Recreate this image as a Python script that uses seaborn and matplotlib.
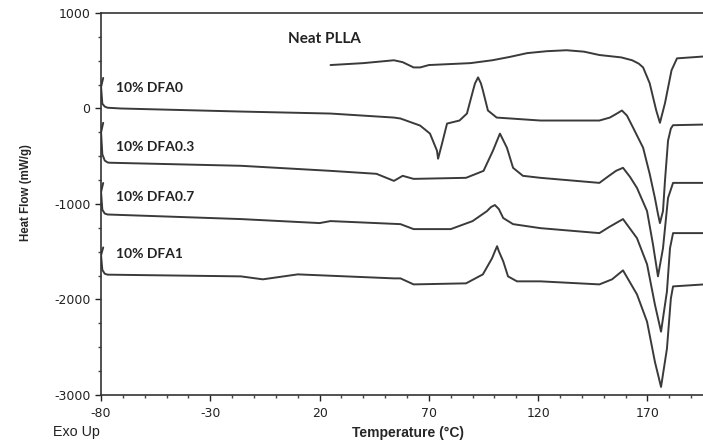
import matplotlib
matplotlib.use("Agg")
import matplotlib.pyplot as plt
from matplotlib.ticker import MultipleLocator
import seaborn as sns

sns.set_style("ticks")
plt.rcParams['font.family'] = ['Liberation Sans', 'DejaVu Sans']
plt.rcParams['axes.unicode_minus'] = False

# DSC traces: temperature (°C) and heat flow (mW/g)
neat_t = [25, 40, 54, 58, 63, 66, 70, 89, 99, 107, 115, 124, 133, 141, 148, 158, 163, 166, 168, 171, 174,
          175.7, 178, 181, 183.5, 196]
neat_hf = [455, 475, 505, 485, 430, 430, 455, 475, 505, 540, 580, 600, 610, 595, 560, 535, 505, 470, 430,
           265, -20, -150, 55, 400, 525, 545]

dfa0_t = [-79, -80, -80, -79.4, -78.3, -77, -71, -16, 25, 54, 57, 66, 70.5, 73.7, 74.2, 76, 78.3, 84, 87.4,
          90.2, 91.1, 92.5, 93.8, 94.7, 97, 101, 121, 148, 152.8, 156, 158.3, 160.6, 163.4, 168, 171, 173.4,
          174.8, 175.7, 177.1, 178, 179.4, 180.7, 181.7, 196]
dfa0_hf = [320, 300, 150, 50, 20, 8, 0, -32, -53, -95, -105, -179, -263, -442, -526, -368, -158, -126, -53,
           189, 263, 326, 263, 189, -21, -95, -126, -126, -95, -53, -21, -74, -200, -411, -684, -937,
           -1105, -1200, -1074, -758, -337, -210, -175, -168]

dfa03_t = [-79, -80, -80, -79.4, -78.3, -77, -76, -16, 25, 46, 54, 58, 63, 87, 95, 99.3, 102.5, 105.7, 108.5,
           113, 121, 148, 152.4, 155.6, 158.8, 162, 165.2, 169.8, 172.5, 174.8, 177.1, 179.4, 181.7, 196]
dfa03_hf = [-150, -170, -330, -480, -545, -565, -568, -600, -653, -684, -758, -705, -737, -726, -653, -442,
            -263, -411, -621, -705, -726, -779, -705, -653, -621, -716, -832, -1074, -1421, -1758, -1463,
            -937, -779, -779]

dfa07_t = [-79, -80, -80, -79.4, -78.3, -77, -16, 20, 25, 57, 63, 80, 90, 96.6, 98.4, 100.2, 102, 104, 108.5,
           121, 148, 152.4, 158.8, 165.2, 169.8, 173.4, 176.2, 178.9, 180.3, 181.7, 196]
dfa07_hf = [-780, -800, -950, -1060, -1100, -1110, -1158, -1200, -1179, -1211, -1263, -1263, -1179, -1074,
            -1032, -1011, -1053, -1147, -1211, -1253, -1305, -1242, -1158, -1358, -1631, -2053, -2337, -1916,
            -1463, -1305, -1305]

dfa1_t = [-79, -80, -80, -79.4, -78.3, -77, -16, -6, 10, 54, 57, 63, 87, 94.7, 98.9, 100.2, 101.2, 102, 104,
          106.2, 110.3, 121, 148, 153.8, 158.8, 165.2, 169.8, 173.4, 176.2, 178.9, 180.7, 181.7, 196]
dfa1_hf = [-1455, -1475, -1600, -1690, -1730, -1740, -1758, -1789, -1737, -1779, -1779, -1842, -1831, -1737,
           -1568, -1495, -1442, -1495, -1600, -1758, -1810, -1810, -1842, -1789, -1695, -1947, -2232, -2653,
           -2916, -2516, -1989, -1863, -1842]

series = {
    "Neat PLLA": (neat_t, neat_hf),
    "10% DFA0": (dfa0_t, dfa0_hf),
    "10% DFA0.3": (dfa03_t, dfa03_hf),
    "10% DFA0.7": (dfa07_t, dfa07_hf),
    "10% DFA1": (dfa1_t, dfa1_hf),
}

# where each curve name sits (data coords) and its size
label_pos = {
    "Neat PLLA": (5.5, 725, 11),
    "10% DFA0": (-73.2, 212, 10),
    "10% DFA0.3": (-73.2, -400, 10),
    "10% DFA0.7": (-73.2, -926, 10),
    "10% DFA1": (-73.2, -1526, 10),
}

fig = plt.figure(figsize=(7.03, 4.45), dpi=100)
ax = fig.add_axes([0.1437, 0.1124, 0.8563, 0.8584])

for name, (t, hf) in series.items():
    sns.lineplot(x=t, y=hf, sort=False, color='#3a3a3a', linewidth=1.4, ax=ax)
    lx, ly, fs = label_pos[name]
    ax.text(lx, ly, name, fontsize=fs, fontweight='bold', va='center', ha='left',
            family=['Lato', 'DejaVu Sans'], color='#222222')

ax.set_xlim(-80, 195.4)
ax.set_ylim(-3000, 1000)
ax.set_xticks([-80, -30, 20, 70, 120, 170])
ax.set_yticks([-3000, -2000, -1000, 0, 1000])
ax.xaxis.set_minor_locator(MultipleLocator(10))
ax.yaxis.set_minor_locator(MultipleLocator(250))
ax.tick_params(which='major', length=4, width=1, labelsize=9, colors='#222222')
ax.tick_params(axis='x', which='major', pad=5)
ax.tick_params(which='minor', length=2, width=1, colors='#444444')
for lab in ax.get_xticklabels() + ax.get_yticklabels():
    lab.set_family(['DejaVu Sans'])
ax.spines['right'].set_visible(False)
for s in ['left', 'top', 'bottom']:
    ax.spines[s].set_color('#333333')
    ax.spines[s].set_linewidth(1.2)

ax.set_xlabel("Temperature (°C)", fontsize=10, fontweight='bold')
ax.xaxis.set_label_coords(0.51, -0.082)
ax.set_ylabel("Heat Flow (mW/g)", fontsize=8.3, fontweight='bold')
ax.yaxis.set_label_coords(-0.115, 0.53)
fig.text(53 / 703, 1 - 432 / 445, "Exo Up", fontsize=10.3, va='center', ha='left', color='#222222')

fig.savefig("out.png", dpi=100)
